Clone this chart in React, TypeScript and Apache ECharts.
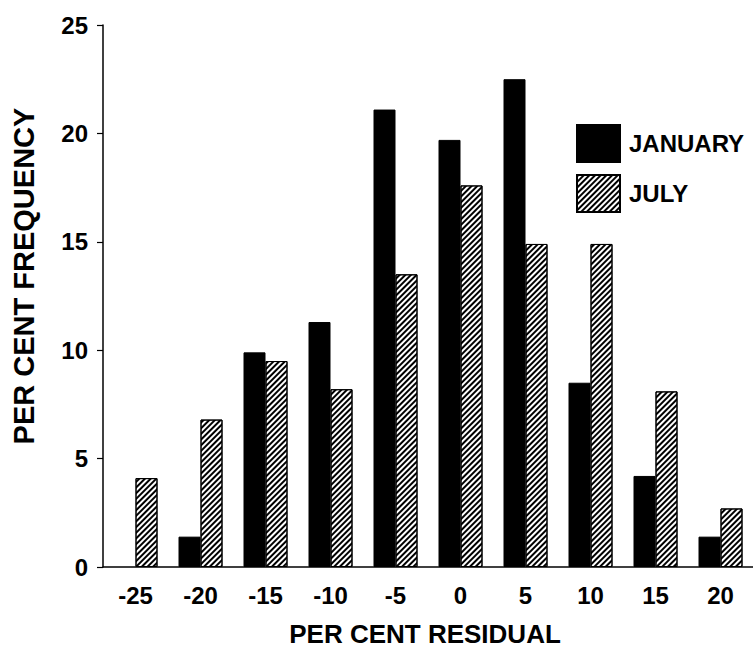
import React, { useEffect, useRef } from "react";
import * as echarts from "echarts";

const categories = ["-25", "-20", "-15", "-10", "-5", "0", "5", "10", "15", "20"];
const january = [null, 1.4, 9.9, 11.3, 21.1, 19.7, 22.5, 8.5, 4.2, 1.4];
const july = [4.1, 6.8, 9.5, 8.2, 13.5, 17.6, 14.9, 14.9, 8.1, 2.7];
const yTicks = { min: 0, max: 25, interval: 5 };
const xTitle = "PER CENT RESIDUAL";
const yTitle = "PER CENT FREQUENCY";
const seriesNames = ["JANUARY", "JULY"];

const FONT = "'Liberation Sans', Arial, Helvetica, sans-serif";

export default function App() {
  const ref = useRef<HTMLDivElement>(null);
  useEffect(() => {
    if (!ref.current) return;
    const chart = echarts.init(ref.current, null, { renderer: "svg" });
    chart.setOption({
      animation: false,
      backgroundColor: "#fff",
      grid: { left: 103, right: -3, top: 25, bottom: 82, containLabel: false },
      legend: {
        left: 571,
        top: 119,
        orient: "vertical",
        itemWidth: 43,
        itemHeight: 37,
        itemGap: 11,
        icon: "rect",
        selectedMode: false,
        textStyle: { fontFamily: FONT, fontWeight: "bold", fontSize: 24, color: "#000", padding: [0, 0, 0, 4] },
        data: seriesNames,
      },
      xAxis: {
        type: "category",
        data: categories,
        boundaryGap: true,
        axisLine: { lineStyle: { color: "#000", width: 1.5 } },
        axisTick: { alignWithLabel: true, length: 6, lineStyle: { color: "#000", width: 1.2 } },
        axisLabel: { fontFamily: FONT, fontWeight: "bold", fontSize: 24, color: "#000", margin: 16 },
        splitLine: { show: false },
      },
      yAxis: {
        type: "value",
        min: yTicks.min,
        max: yTicks.max,
        interval: yTicks.interval,
        axisLine: { show: true, lineStyle: { color: "#000", width: 1.5 } },
        axisTick: { show: true, length: 6, lineStyle: { color: "#000", width: 1.2 } },
        axisLabel: { fontFamily: FONT, fontWeight: "bold", fontSize: 24, color: "#000", margin: 15 },
        splitLine: { show: false },
      },
      graphic: [
        {
          type: "text",
          x: 425,
          y: 634,
          style: {
            text: xTitle,
            x: 0,
            y: 0,
            align: "center",
            verticalAlign: "middle",
            fontFamily: FONT,
            fontWeight: "bold",
            fontSize: 26,
            fill: "#000",
          },
        },
        {
          type: "text",
          x: 24,
          y: 276,
          rotation: Math.PI / 2,
          style: {
            text: yTitle,
            x: 0,
            y: 0,
            align: "center",
            verticalAlign: "middle",
            fontFamily: FONT,
            fontWeight: "bold",
            fontSize: 29,
            fill: "#000",
          },
        },
      ],
      series: [
        {
          name: seriesNames[0],
          type: "bar",
          data: january,
          barWidth: 22,
          barGap: "0%",
          itemStyle: { color: "#000", borderColor: "#000", borderWidth: 1 },
        },
        {
          name: seriesNames[1],
          type: "bar",
          data: july,
          barWidth: 22,
          barGap: "0%",
          itemStyle: {
            color: "#fff",
            borderColor: "#000",
            borderWidth: 1,
            decal: {
              symbol: "rect",
              symbolSize: 1,
              color: "#000",
              dashArrayX: [1, 0],
              dashArrayY: [1.5, 1.5],
              rotation: -Math.PI / 4,
            },
          },
        },
      ],
    });
    return () => chart.dispose();
  }, []);
  return <div ref={ref} style={{ position: "fixed", left: 0, top: 0, width: 753, height: 649 }} />;
}
